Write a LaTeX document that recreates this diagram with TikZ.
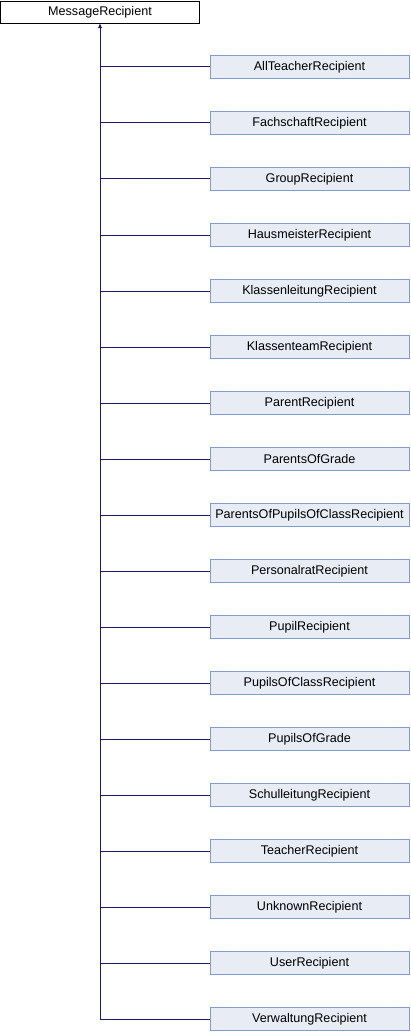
\documentclass[tikz,border=0pt]{standalone}
\usepackage{fontspec}
\setmainfont{Liberation Sans}
\usetikzlibrary{arrows.meta}

\definecolor{edgeblue}{RGB}{25,25,112}
\definecolor{childfill}{RGB}{232,236,244}
\definecolor{childdraw}{RGB}{132,155,203}

\begin{document}
\begin{tikzpicture}[x = 1pt, y = 1pt,
  base/.style = {draw = black, fill = white, minimum width = 199pt, minimum height = 22pt, inner sep = 0pt, font = \fontsize{12.6}{14}\selectfont},
  child/.style = {base, draw = childdraw, fill = childfill, minimum height = 23pt},
  inherit/.style = {edgeblue, line width = 1pt}]
\useasboundingbox (0, 0) rectangle (410, -1032);

\node[base] (msg) at (100, -12) {MessageRecipient};

\foreach \name [count = \i] in {AllTeacherRecipient, FachschaftRecipient, GroupRecipient, HausmeisterRecipient, KlassenleitungRecipient, KlassenteamRecipient, ParentRecipient, ParentsOfGrade, ParentsOfPupilsOfClassRecipient, PersonalratRecipient, PupilRecipient, PupilsOfClassRecipient, PupilsOfGrade, SchulleitungRecipient, TeacherRecipient, UnknownRecipient, UserRecipient, VerwaltungRecipient} {
  \node[child] (c\i) at (309.5, {-67 - 56 * (\i - 1)}) {\name};
  \draw[inherit] (msg.south |- c\i.west) -- (c\i.west);
}

\draw[inherit, {Latex[length = 5pt, width = 4.5pt]}-] (msg.south) -- (msg.south |- c18.west);
\end{tikzpicture}
\end{document}
